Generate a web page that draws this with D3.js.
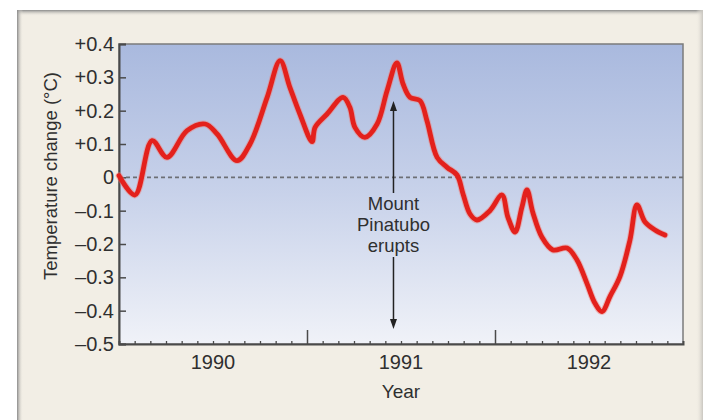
<!DOCTYPE html>
<html>
<head>
<meta charset="utf-8">
<script src="https://cdn.jsdelivr.net/npm/d3@7"></script>
<style>
  html, body { margin: 0; padding: 0; background: #ffffff; }
  svg { display: block; }
  text { font-family: "Liberation Sans", Arial, Helvetica, sans-serif; fill: #2f2f2f; }
</style>
</head>
<body>
<svg id="chart" width="711" height="420"></svg>
<script>
// ---- data (decimal years, temperature change °C) ----
const years = [1990.00, 1990.085, 1990.176, 1990.255, 1990.362, 1990.458, 1990.522, 1990.628, 1990.697, 1990.788,
  1990.857, 1990.909, 1990.962, 1991.027, 1991.043, 1991.107, 1991.192, 1991.228, 1991.255, 1991.308,
  1991.373, 1991.426, 1991.478, 1991.511, 1991.548, 1991.601, 1991.638, 1991.692, 1991.745, 1991.798,
  1991.830, 1991.867, 1991.904, 1991.973, 1992.037, 1992.069, 1992.107, 1992.143, 1992.170, 1992.202,
  1992.250, 1992.308, 1992.383, 1992.436, 1992.489, 1992.532, 1992.569, 1992.612, 1992.665, 1992.718,
  1992.755, 1992.798, 1992.851, 1992.904];
const tempChange = [0.005, -0.053, 0.11, 0.06, 0.14, 0.16, 0.13, 0.05, 0.10, 0.24,
  0.35, 0.27, 0.19, 0.107, 0.15, 0.19, 0.24, 0.21, 0.15, 0.12,
  0.16, 0.26, 0.343, 0.28, 0.24, 0.23, 0.17, 0.06, 0.03, 0.007,
  -0.05, -0.11, -0.128, -0.10, -0.053, -0.12, -0.164, -0.09, -0.038, -0.107,
  -0.18, -0.218, -0.212, -0.248, -0.318, -0.378, -0.403, -0.357, -0.297, -0.188,
  -0.083, -0.134, -0.158, -0.173];
const yTickValues = [0.4, 0.3, 0.2, 0.1, 0, -0.1, -0.2, -0.3, -0.4, -0.5];
const yTickLabels = ["+0.4", "+0.3", "+0.2", "+0.1", "0", "\u20130.1", "\u20130.2", "\u20130.3", "\u20130.4", "\u20130.5"];
const yearLabels = ["1990", "1991", "1992"];
const eruptionDate = 1991.46;
const annotationLines = ["Mount", "Pinatubo", "erupts"];

// ---- layout ----
const svg = d3.select("#chart");
const plot = { left: 119, right: 683, top: 44, bottom: 344 };
const x = d3.scaleLinear().domain([1990, 1993]).range([plot.left, plot.right]);
const y = d3.scaleLinear().domain([-0.5, 0.4]).range([plot.bottom, plot.top]);

const defs = svg.append("defs");
const bg = defs.append("linearGradient").attr("id", "plotbg").attr("x1", 0).attr("y1", 0).attr("x2", 0).attr("y2", 1);
bg.append("stop").attr("offset", "0%").attr("stop-color", "#a9b9de");
bg.append("stop").attr("offset", "50%").attr("stop-color", "#c8d2ea");
bg.append("stop").attr("offset", "100%").attr("stop-color", "#f0f2f8");
const topShade = defs.append("linearGradient").attr("id", "topShade").attr("x1", 0).attr("y1", 0).attr("x2", 0).attr("y2", 1);
topShade.append("stop").attr("offset", "0%").attr("stop-color", "#8a8a8a");
topShade.append("stop").attr("offset", "100%").attr("stop-color", "#f2eee5").attr("stop-opacity", 0);
const leftShade = defs.append("linearGradient").attr("id", "leftShade").attr("x1", 0).attr("y1", 0).attr("x2", 1).attr("y2", 0);
leftShade.append("stop").attr("offset", "0%").attr("stop-color", "#8a8a8a");
leftShade.append("stop").attr("offset", "100%").attr("stop-color", "#f2eee5").attr("stop-opacity", 0);
const rightShade = defs.append("linearGradient").attr("id", "rightShade").attr("x1", 0).attr("y1", 0).attr("x2", 1).attr("y2", 0);
rightShade.append("stop").attr("offset", "0%").attr("stop-color", "#f2eee5").attr("stop-opacity", 0);
rightShade.append("stop").attr("offset", "100%").attr("stop-color", "#c9c6c0");

// card
svg.append("rect").attr("x", 17).attr("y", 10).attr("width", 686).attr("height", 420).attr("fill", "#f2eee5");
svg.append("rect").attr("x", 17).attr("y", 10).attr("width", 686).attr("height", 6).attr("fill", "url(#topShade)");
svg.append("rect").attr("x", 17).attr("y", 10).attr("width", 6).attr("height", 420).attr("fill", "url(#leftShade)");
svg.append("rect").attr("x", 696).attr("y", 10).attr("width", 7).attr("height", 420).attr("fill", "url(#rightShade)");

// plot background
svg.append("rect")
  .attr("x", plot.left).attr("y", plot.top)
  .attr("width", plot.right - plot.left).attr("height", plot.bottom - plot.top)
  .attr("fill", "url(#plotbg)")
  .attr("stroke", "#7b7b7b").attr("stroke-width", 1.5);

// zero line
svg.append("line")
  .attr("x1", plot.left).attr("x2", plot.right)
  .attr("y1", y(0)).attr("y2", y(0))
  .attr("stroke", "#6d6f75").attr("stroke-width", 1.6).attr("stroke-dasharray", "4,3");

// y axis (ticks inward)
const yAxis = d3.axisRight(y).tickValues(yTickValues).tickSize(7).tickFormat("");
const gy = svg.append("g").attr("transform", `translate(${plot.left},0)`).call(yAxis);
gy.select(".domain").attr("stroke", "#4a4a4a").attr("stroke-width", 2);
gy.selectAll(".tick line").attr("stroke", "#4a4a4a").attr("stroke-width", 1.5);
svg.append("g").selectAll("text").data(yTickValues).join("text")
  .attr("x", 114).attr("y", d => y(d) + 7)
  .attr("text-anchor", "end").attr("font-size", 20)
  .text((d, i) => yTickLabels[i]);

// x axis: monthly minor ticks, yearly major ticks (inward)
const monthTicks = d3.range(1, 36).filter(m => m % 12 !== 0).map(m => 1990 + m / 12);
const xMinor = d3.axisTop(x).tickValues(monthTicks).tickSize(3).tickFormat("");
const gxm = svg.append("g").attr("transform", `translate(0,${plot.bottom})`).call(xMinor);
gxm.select(".domain").attr("stroke", "#4a4a4a").attr("stroke-width", 2);
gxm.selectAll(".tick line").attr("stroke", "#4a4a4a").attr("stroke-width", 1.3);
const xMajor = d3.axisTop(x).tickValues([1991, 1992]).tickSize(14).tickFormat("");
const gxM = svg.append("g").attr("transform", `translate(0,${plot.bottom})`).call(xMajor);
gxM.select(".domain").remove();
gxM.selectAll(".tick line").attr("stroke", "#4a4a4a").attr("stroke-width", 1.5);
svg.append("g").selectAll("text").data(yearLabels).join("text")
  .attr("x", (d, i) => x(1990 + i + 0.5)).attr("y", 369)
  .attr("text-anchor", "middle").attr("font-size", 20)
  .text(d => d);

// axis titles
svg.append("text").attr("x", x(1991.5)).attr("y", 398).attr("text-anchor", "middle")
  .attr("font-size", 19).text("Year");
svg.append("text").attr("transform", "translate(57,176) rotate(-90)").attr("text-anchor", "middle")
  .attr("font-size", 18.5).text("Temperature change (\u00B0C)");

// data line
const line = d3.line().x((d, i) => x(years[i])).y(d => y(d)).curve(d3.curveCatmullRom.alpha(0.5));
svg.append("path").datum(tempChange)
  .attr("d", line).attr("fill", "none")
  .attr("stroke", "#f07a70").attr("stroke-width", 6.8).attr("stroke-opacity", 0.45)
  .attr("stroke-linecap", "round").attr("stroke-linejoin", "round");
svg.append("path").datum(tempChange)
  .attr("d", line).attr("fill", "none")
  .attr("stroke", "#e3211c").attr("stroke-width", 4.8)
  .attr("stroke-linecap", "round").attr("stroke-linejoin", "round");

// annotation
const ax = x(eruptionDate);
const ann = svg.append("g");
ann.append("line").attr("x1", ax).attr("x2", ax).attr("y1", 108).attr("y2", 193)
  .attr("stroke", "#222").attr("stroke-width", 1.5);
ann.append("path").attr("d", `M${ax},101 L${ax - 3.5},111 L${ax + 3.5},111 Z`).attr("fill", "#222");
ann.append("line").attr("x1", ax).attr("x2", ax).attr("y1", 257).attr("y2", 322)
  .attr("stroke", "#222").attr("stroke-width", 1.5);
ann.append("path").attr("d", `M${ax},329 L${ax - 3.5},319 L${ax + 3.5},319 Z`).attr("fill", "#222");
ann.selectAll("text").data(annotationLines).join("text")
  .attr("x", ax).attr("y", (d, i) => 210 + i * 20.8)
  .attr("text-anchor", "middle").attr("font-size", 18.5)
  .text(d => d);
</script>
</body>
</html>
